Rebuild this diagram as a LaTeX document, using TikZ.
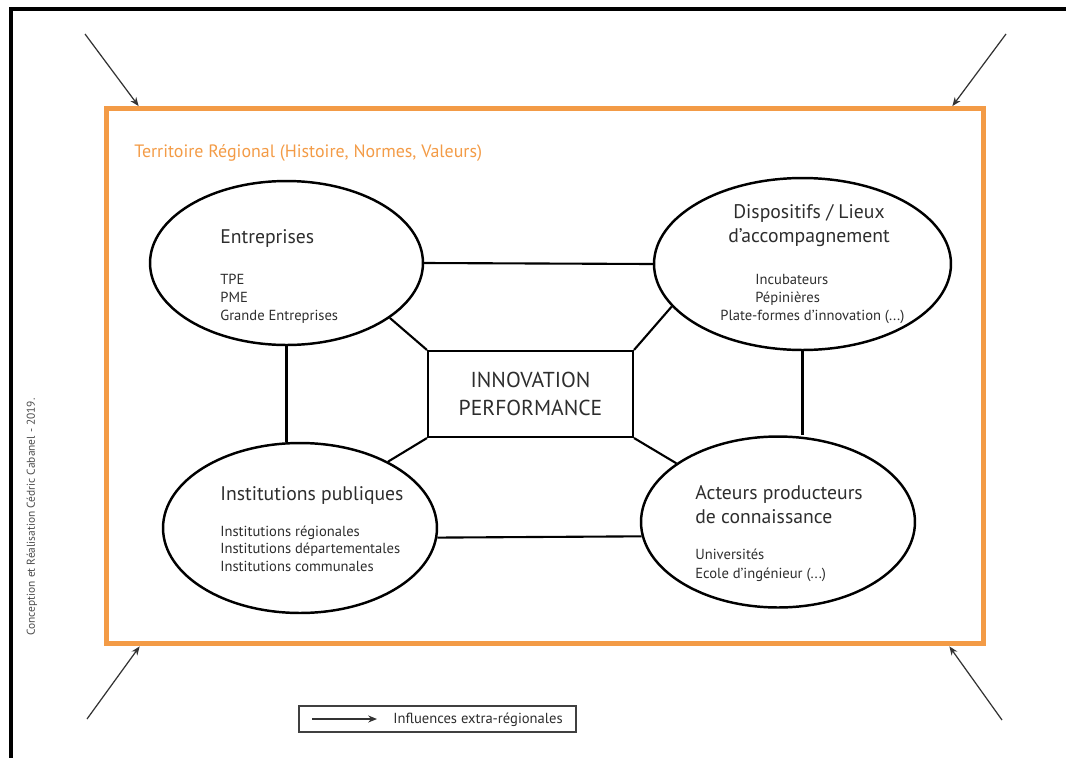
\documentclass[tikz,border=0pt]{standalone}
\usepackage{fontspec}
\setmainfont{PT Sans}
\usetikzlibrary{shapes.geometric, arrows.meta}
\definecolor{terr}{RGB}{243,155,70}
\definecolor{texte}{RGB}{45,45,45}

\begin{document}
\begin{tikzpicture}[x=0.02cm, y=-0.02cm,
    pole/.style={draw, ellipse, line width=1.4pt, inner sep=0pt},
    lien/.style={line width=1.2pt},
    grand/.style={font=\fontsize{11.2}{13}\selectfont, text=texte, inner sep=0pt},
    petit/.style={font=\fontsize{8.3}{10}\selectfont, text=texte, inner sep=0pt},
    influence/.style={-{Stealth[length=5pt, width=4pt]}, line width=0.7pt, black!80}]
    \useasboundingbox (0,0) rectangle (1066,758);

    % cadre
    \draw[line width=2.3pt] (11,758) -- (11,9) -- (1066,9);
    \node[rotate=90, font=\fontsize{6.5}{8}\selectfont, text=black!70] (credit) at (32,517) {Conception et Réalisation Cédric Cabanel - 2019.};

    % territoire
    \node[draw=terr, line width=2.8pt, minimum width=17.55cm, minimum height=10.71cm] (T) at (545.25,376.25) {};
    \node[anchor=base west, font=\fontsize{10.2}{12}\selectfont, text=terr, inner sep=0pt] (titre) at (134,157) {Territoire Régional (Histoire, Normes, Valeurs)};

    \coordinate (HG) at (85,34);
    \coordinate (HD) at (1006,34);
    \coordinate (BG) at (87,719);
    \coordinate (BD) at (1002,720);
    \draw[influence] (HG) -- ([xshift=0.69cm]T.north west);
    \draw[influence] (HD) -- ([xshift=-0.68cm]T.north east);
    \draw[influence] (BG) -- ([xshift=0.71cm]T.south west);
    \draw[influence] (BD) -- ([xshift=-0.74cm]T.south east);

    % poles
    \node[pole, minimum width=5.46cm, minimum height=3.28cm] (ent) at (286.5,263) {};
    \node[pole, minimum width=5.94cm, minimum height=3.44cm] (disp) at (802.5,264) {};
    \node[pole, minimum width=5.48cm, minimum height=3.40cm] (inst) at (300,528) {};
    \node[pole, minimum width=5.48cm, minimum height=3.42cm] (act) at (778,522) {};
    \node[draw, line width=1.2pt, minimum width=4.10cm, minimum height=1.72cm, align=center,
        font=\fontsize{12.3}{16}\selectfont, text=texte] (core) at (530.5,394) {INNOVATION\\PERFORMANCE};

    % liens
    \draw[lien] (ent.east) -- (disp.west);
    \draw[lien] (ent.-28) -- (core.north west);
    \draw[lien] (disp.198) -- (core.north east);
    \draw[lien] (inst.37) -- (core.south west);
    \draw[lien] (act.150) -- (core.south east);
    \draw[lien] (ent.south) -- (ent.south |- inst.north);
    \draw[lien] (disp.south) -- (disp.south |- act.north);
    \draw[lien] (inst.-4) -- (act.186);

    % textes
    \node[grand, anchor=base west] (entT) at (220,243) {Entreprises};
    \node[petit, anchor=base west] (ent1) at (220,284) {TPE};
    \node[petit, anchor=base west] (ent2) at (220,302) {PME};
    \node[petit, anchor=base west] (ent3) at (220,320) {Grande Entreprises};

    \node[grand, anchor=base] (dispT) at (809,218) {Dispositifs / Lieux};
    \node[grand, anchor=base] (dispT2) at (809,242) {d’accompagnement};
    \node[petit, anchor=base west] (disp1) at (755,284) {Incubateurs};
    \node[petit, anchor=base west] (disp2) at (755,302) {Pépinières};
    \node[petit, anchor=base west] (disp3) at (720,320) {Plate-formes d’innovation (...)};

    \node[grand, anchor=base west] (instT) at (220,500) {Institutions publiques};
    \node[petit, anchor=base west] (inst1) at (220,536) {Institutions régionales};
    \node[petit, anchor=base west] (inst2) at (220,553) {Institutions départementales};
    \node[petit, anchor=base west] (inst3) at (220,571) {Institutions communales};

    \node[grand, anchor=base west] (actT) at (695,499) {Acteurs producteurs};
    \node[grand, anchor=base west] (actT2) at (695,523) {de connaissance};
    \node[petit, anchor=base west] (act1) at (695,559) {Universités};
    \node[petit, anchor=base west] (act2) at (695,578) {Ecole d’ingénieur (...)};

    % legende
    \node[draw, line width=0.7pt, black!75, minimum width=5.54cm, minimum height=0.52cm] (leg) at (437.5,719) {};
    \coordinate (legA) at (312,719);
    \coordinate (legB) at (377,719);
    \draw[influence] (legA) -- (legB);
    \node[petit, anchor=base west] (legT) at (393,723) {Influences extra-régionales};
\end{tikzpicture}
\end{document}
